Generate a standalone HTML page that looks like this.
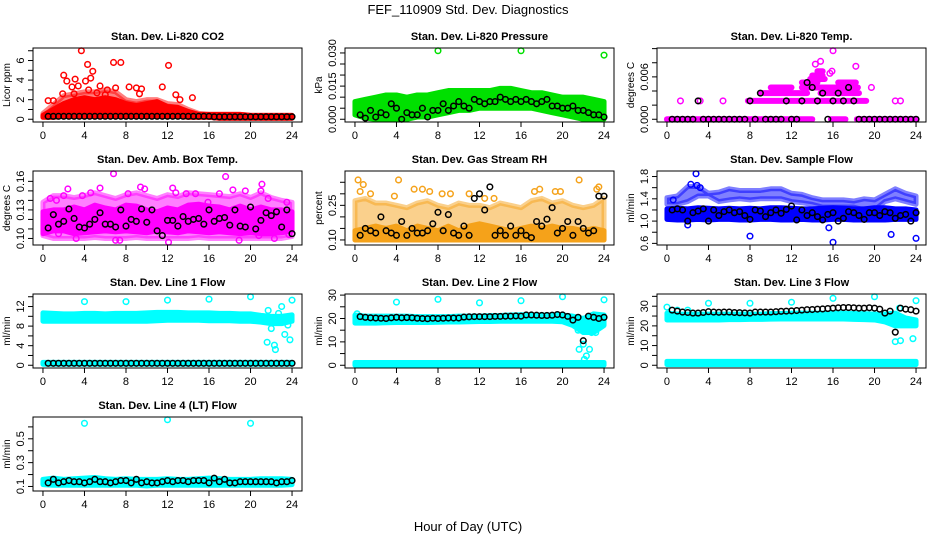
<!DOCTYPE html>
<html><head><meta charset="utf-8"><style>
html,body{margin:0;padding:0;background:#fff;}
svg{display:block;font-family:"Liberation Sans",sans-serif;}
</style></head><body>
<svg id="c" width="936" height="540" viewBox="0 0 936 540">
<text x="468" y="14" font-size="13" text-anchor="middle">FEF_110909  Std. Dev. Diagnostics</text>
<text x="468" y="531" font-size="13" text-anchor="middle">Hour of Day (UTC)</text>
</svg>
<script>
// ---- shared categories ----
const hours = [0,1,2,3,4,5,6,7,8,9,10,11,12,13,14,15,16,17,18,19,20,21,22,23,24];
const blackTimes = [0.5,1,1.5,2,2.5,3,3.5,4,4.5,5,5.5,6,6.5,7,7.5,8,8.5,9,9.5,10,10.5,11,11.5,12,12.5,13,13.5,14,14.5,15,15.5,16,16.5,17,17.5,18,18.5,19,19.5,20,20.5,21,21.5,22,22.5,23,23.5,24];
const xTicks = [0,4,8,12,16,20,24];

// ---- CO2 ----
const co2Lo = [0.2,0.2,0.3,0.3,0.3,0.3,0.3,0.3,0.3,0.3,0.3,0.3,0.3,0.3,0.2,0.2,0.2,0.1,0.1,0.1,0.1,0.1,0.1,0.1,0.1];
const co2Hi = [0.4,1.0,1.6,2.0,2.2,2.0,2.2,2.0,1.6,1.4,1.6,1.8,1.3,1.2,0.8,0.5,0.5,0.5,0.5,0.5,0.4,0.4,0.4,0.4,0.4];
const co2Env = [0.6,1.5,2.4,2.6,2.8,2.8,3.0,2.8,2.0,1.8,2.0,2.0,1.6,1.5,1.0,0.6,0.5,0.5,0.5,0.5,0.4,0.4,0.4,0.4,0.4];
const co2OutT = [0.5,1,1.9,2,2.3,2.8,3.1,3.4,3.7,4.1,4.3,4.4,4.6,4.8,5.5,6.2,6.8,7,7.5,8.3,9,9.5,9.3,11.5,12.1,12.8,13.2,14.4,3,5.2,6,4.3];
const co2OutV = [1.9,1.9,2.6,4.5,3.9,3.3,4.1,3.4,7.0,3.9,5.6,3.0,4.2,4.9,3.4,3.0,5.8,3.2,5.8,3.3,3.2,3.1,2.6,3.3,5.5,2.5,2.0,2.2,2.6,2.7,2.5,2.0];
const co2Black = [0.3,0.3,0.3,0.3,0.3,0.3,0.3,0.3,0.3,0.3,0.3,0.3,0.3,0.3,0.3,0.3,0.3,0.3,0.3,0.3,0.3,0.3,0.3,0.3,0.3,0.3,0.3,0.3,0.3,0.3,0.3,0.3,0.25,0.25,0.25,0.25,0.25,0.25,0.25,0.25,0.25,0.25,0.25,0.25,0.25,0.25,0.25,0.25];

// ---- Pressure ----
const prLo = [0.002,0.0005,0,0,0,0,0.001,0.001,0.002,0.003,0.004,0.004,0.005,0.005,0.005,0.005,0.005,0.005,0.004,0.003,0.002,0.001,0,0,0];
const prHi = [0.008,0.009,0.010,0.011,0.011,0.010,0.011,0.011,0.012,0.013,0.013,0.013,0.013,0.013,0.014,0.014,0.013,0.012,0.012,0.011,0.010,0.010,0.010,0.009,0.008];
const prOutT = [8,16,24];
const prOutV = [0.031,0.031,0.029];
const prBlack = [0.002,0.0005,0.004,0.001,0.003,0.002,0.007,0.005,0,0.003,0.002,0.002,0.005,0.001,0.004,0.004,0.007,0.004,0.006,0.008,0.006,0.005,0.009,0.008,0.007,0.008,0.008,0.010,0.009,0.008,0.009,0.008,0.009,0.008,0.007,0.008,0.009,0.006,0.006,0.005,0.005,0.006,0.004,0.004,0.003,0.002,0.002,0.001];

// ---- Li-820 Temp (quantized runs: level, start hour, end hour) ----
const tmpRunLevel = [0,0,0,0.0026,0.0037,0.0037,0.0045,0.0045,0.0052,0.0052,0.0057,0.0062,0.0068];
const tmpRunStart = [0,15.8,18.3,7.8,9,14.8,10,13,13,16.5,13.8,14,14.5];
const tmpRunEnd = [14,17.2,24,19.2,13.5,18.5,12,18.4,14.5,18.2,15.2,15,15];
const tmpOutT = [1.3,3.2,5.4,22,22.5,19.7,16,15.9,15.7,18.2,14.8,14.3];
const tmpOutV = [0.0026,0.0026,0.0026,0.0026,0.0026,0.0045,0.0097,0.0068,0.0065,0.0075,0.0082,0.0078];
const tmpBlack = [0,0,0,0,0,0.0026,0,0,0,0,0,0,0,0,0,0.0026,0,0.0037,0,0,0,0,0.0026,0,0,0.0026,0.0052,0.0045,0.0026,0.0037,0,0.0026,0.0037,0.0026,0.0045,0.0026,0,0,0,0,0,0,0,0,0,0,0,0];

// ---- Amb Box Temp ----
const ambLo = [0.105,0.108,0.108,0.105,0.106,0.107,0.108,0.107,0.108,0.107,0.106,0.108,0.107,0.106,0.108,0.107,0.106,0.107,0.106,0.105,0.106,0.105,0.105,0.106,0.108];
const ambHi = [0.128,0.13,0.13,0.133,0.13,0.135,0.132,0.13,0.135,0.134,0.13,0.128,0.132,0.13,0.135,0.136,0.134,0.133,0.13,0.134,0.13,0.133,0.13,0.13,0.128];
const ambEnvLo = [0.103,0.1,0.1,0.1,0.1,0.101,0.1,0.1,0.1,0.101,0.1,0.1,0.1,0.1,0.1,0.101,0.1,0.1,0.1,0.1,0.1,0.1,0.1,0.1,0.102];
const ambEnvHi = [0.138,0.145,0.145,0.143,0.145,0.148,0.145,0.142,0.146,0.148,0.145,0.142,0.146,0.144,0.148,0.147,0.146,0.145,0.144,0.147,0.143,0.148,0.143,0.14,0.138];
const ambOutT = [0.7,1.3,1.5,2,2.4,3.2,3.8,4.6,5.5,6.8,7,7.4,8.2,9.4,9.8,12.1,12.5,12.8,13.8,14.7,15.9,17,17.6,18.3,18.9,19.5,20.8,21.1,21,21.7,22.3,23.5,23.7];
const ambOutV = [0.142,0.14,0.105,0.145,0.152,0.10,0.145,0.148,0.153,0.168,0.098,0.098,0.147,0.154,0.152,0.096,0.153,0.148,0.147,0.147,0.138,0.147,0.165,0.151,0.098,0.15,0.103,0.157,0.15,0.142,0.1,0.138,0.104];
const ambBlack = [0.111,0.125,0.115,0.118,0.131,0.121,0.112,0.111,0.115,0.12,0.127,0.115,0.115,0.112,0.13,0.113,0.12,0.118,0.131,0.117,0.13,0.108,0.103,0.119,0.119,0.113,0.123,0.118,0.12,0.121,0.115,0.13,0.118,0.121,0.122,0.114,0.13,0.113,0.112,0.133,0.11,0.119,0.127,0.124,0.128,0.112,0.13,0.105];

// ---- Gas Stream RH ----
const rhLo = [0.1,0.1,0.1,0.1,0.1,0.1,0.1,0.1,0.1,0.1,0.1,0.1,0.1,0.1,0.1,0.1,0.1,0.1,0.1,0.1,0.1,0.1,0.1,0.1,0.1];
const rhHi = [0.14,0.15,0.16,0.15,0.16,0.14,0.16,0.15,0.14,0.16,0.14,0.16,0.17,0.16,0.15,0.14,0.15,0.16,0.15,0.16,0.15,0.15,0.14,0.15,0.14];
const rhEnvHi = [0.27,0.28,0.26,0.26,0.25,0.24,0.26,0.27,0.25,0.24,0.26,0.25,0.25,0.24,0.26,0.25,0.24,0.27,0.28,0.26,0.27,0.25,0.24,0.25,0.28];
const rhOutT = [0.3,0.8,0.5,1.5,4.2,3.8,5.7,6.5,7.2,8.4,9.2,11,12.5,13.4,17.3,17.8,19.3,19.8,21.6,23.3,23.5];
const rhOutV = [0.36,0.34,0.31,0.3,0.36,0.29,0.32,0.32,0.31,0.3,0.3,0.3,0.28,0.28,0.31,0.32,0.31,0.31,0.36,0.32,0.33];
const rhBlack = [0.12,0.15,0.14,0.13,0.20,0.14,0.13,0.12,0.18,0.12,0.15,0.13,0.13,0.14,0.17,0.22,0.14,0.21,0.13,0.12,0.16,0.12,0.28,0.30,0.23,0.33,0.12,0.14,0.12,0.16,0.12,0.14,0.12,0.11,0.18,0.16,0.19,0.24,0.13,0.15,0.18,0.12,0.18,0.15,0.13,0.14,0.29,0.29];

// ---- Sample Flow ----
const sfLo = [1.03,1.02,1.02,1.03,1.02,1.03,1.03,1.02,1.02,1.03,1.03,1.02,1.02,1.03,1.02,1.02,1.03,1.03,1.02,1.02,1.02,1.02,1.03,1.03,1.03];
const sfHi = [1.22,1.23,1.22,1.24,1.23,1.22,1.23,1.22,1.23,1.22,1.24,1.24,1.23,1.22,1.22,1.23,1.24,1.23,1.22,1.22,1.24,1.24,1.22,1.22,1.2];
const sfUpLo = [1.3,1.3,1.35,1.45,1.45,1.35,1.38,1.4,1.38,1.4,1.4,1.4,1.35,1.33,1.3,1.25,1.25,1.25,1.25,1.2,1.2,1.35,1.4,1.35,1.3];
const sfUpHi = [1.42,1.45,1.62,1.62,1.5,1.52,1.58,1.55,1.55,1.55,1.58,1.58,1.5,1.48,1.42,1.38,1.38,1.38,1.36,1.4,1.38,1.48,1.58,1.5,1.45];
const sfOutT = [2.8,8,16,24,2,21.6,15.6,2.3,2.9,3.2,0.6];
const sfOutV = [1.85,0.73,0.62,0.69,0.93,0.76,0.88,1.66,1.64,1.6,1.38];
const sfBlack = [1.2,1.22,1.2,1.0,1.15,1.18,1.22,1.0,1.2,1.1,1.17,1.2,1.15,1.17,1.1,1.03,1.2,1.18,1.08,1.15,1.2,1.14,1.21,1.27,1.02,1.2,1.1,1.15,1.08,1.02,1.12,1.15,1.0,1.05,1.17,1.15,1.1,1.03,1.15,1.15,1.1,1.17,1.15,1.05,1.1,1.12,1.0,1.15];

// ---- Line 1 Flow ----
const l1Lo = [9,9,9,9,9,9,9,9,9,9,9,9.1,9.2,9.2,9.2,9.2,9.1,9.1,9.1,9,9,8.8,8.5,8.5,9];
const l1Hi = [10.7,10.6,10.5,10.5,10.6,10.6,10.5,10.6,10.6,10.6,10.7,10.8,10.8,10.8,10.7,10.7,10.7,10.6,10.6,10.5,10.5,10.2,10,10,10.3];
const l1BaseLo = [0.2,0.2,0.2,0.2,0.2,0.2,0.2,0.2,0.2,0.2,0.2,0.2,0.2,0.2,0.2,0.2,0.2,0.2,0.2,0.2,0.2,0.2,0.2,0.2,0.2];
const l1BaseHi = [0.6,0.6,0.6,0.6,0.6,0.6,0.6,0.6,0.6,0.6,0.6,0.6,0.6,0.6,0.6,0.6,0.6,0.6,0.6,0.6,0.6,0.6,0.6,0.6,0.6];
const l1OutT = [4,8,12,16,20,24,21.6,21.7,22,22.3,22.4,22.7,23,23.3,23.6,23.8];
const l1OutV = [13,13,13.3,13.5,14,13.3,4.7,11.2,7.5,4.1,3.2,10.6,12,6.3,8.2,5.2];
const l1Black = [0.4,0.4,0.4,0.4,0.4,0.4,0.4,0.4,0.4,0.4,0.4,0.4,0.4,0.4,0.4,0.4,0.4,0.4,0.4,0.4,0.4,0.4,0.4,0.4,0.4,0.4,0.4,0.4,0.4,0.4,0.4,0.4,0.4,0.4,0.4,0.4,0.4,0.4,0.4,0.4,0.4,0.4,0.4,0.4,0.4,0.4,0.4,0.4];

// ---- Line 2 Flow ----
const l2Lo = [18,18,18,18.2,18.3,18.3,18.3,18.3,18.4,18.5,18.5,18.6,18.7,18.7,18.8,18.8,18.8,18.8,18.8,18.8,18.6,17,14,14,17];
const l2Hi = [21.5,21,21,21,21,21,20.8,20.8,20.8,20.8,21,21,21,21.2,21.3,21.5,21.6,21.5,21.5,21.5,21.5,21,20,22,21.5];
const l2BaseLo = [0,0,0,0,0,0,0,0,0,0,0,0,0,0,0,0,0,0,0,0,0,0,0,0,0];
const l2BaseHi = [1.2,1.2,1.2,1.2,1.2,1.2,1.2,1.2,1.2,1.2,1.2,1.2,1.2,1.2,1.2,1.2,1.2,1.2,1.2,1.2,1.2,1.2,1.2,1.2,1.2];
const l2OutT = [4,8,12,16,20,24,21.5,21.6,22,22.1,22.3,22.6,22.8,23.2,22.4,21.8,0.2];
const l2OutV = [27,28.2,26.7,27.6,29.3,28,15,6.8,9,2.5,4,6.8,14,14,16,17,22];
const l2Black = [20.8,20.5,20.3,20.2,20.1,20.0,20.3,20.5,20.3,20.4,20.3,20.1,20.0,19.9,20.1,20.0,20.1,20.2,20.2,20.2,20.6,20.7,20.8,20.8,20.8,20.8,20.9,20.9,21.0,21.0,21.1,21.0,21.5,21.5,21.4,21.3,21.3,21.4,21.7,21.5,20.9,19.3,20.5,10.5,21.0,20.5,20.0,20.5];

// ---- Line 3 Flow ----
const l3Lo = [23,23,23,23,23,23,23.2,23.2,23.3,23.3,23.4,23.5,23.5,23.5,23.5,23.5,23.5,23.5,23.3,23.2,23,22,20,20,20];
const l3Hi = [26.5,26,26,26,26,26,26,26,26,26,26.2,26.3,26.5,26.5,26.5,26.5,26.5,26.5,26.3,26.2,26,26,26.5,24,23];
const l3BaseLo = [0.3,0.3,0.3,0.3,0.3,0.3,0.3,0.3,0.3,0.3,0.3,0.3,0.3,0.3,0.3,0.3,0.3,0.3,0.3,0.3,0.3,0.3,0.3,0.3,0.3];
const l3BaseHi = [2,2,2,2,2,2,2,2,2,2,2,2,2,2,2,2,2,2,2,2,2,2,2,2,2];
const l3OutT = [0,4,8,12,16,20,24,22,22.5,23.7,22.4,22.8,1,2];
const l3OutV = [29.5,31.5,31.5,32,34,34.8,32.8,12,12.5,13.5,29,22,28,28];
const l3Black = [28,27.5,27,26.8,26.5,26.5,26.8,27.2,27,26.9,27,27,26.8,26.7,26.6,26.5,27,27,27,27,27.2,27.4,27.5,27.6,27.8,28,28.2,28.3,28.5,28.6,28.8,29,29.2,29.3,29.3,29.2,29,29,29.2,29,28.5,26.5,27.5,16.8,29,28.5,28.2,27.5];

// ---- Line 4 (LT) Flow ----
const l4Lo = [0.115,0.11,0.11,0.11,0.11,0.11,0.11,0.11,0.11,0.11,0.105,0.11,0.11,0.11,0.11,0.11,0.11,0.11,0.11,0.11,0.11,0.11,0.11,0.11,0.115];
const l4Hi = [0.16,0.17,0.16,0.165,0.17,0.175,0.165,0.16,0.165,0.16,0.16,0.16,0.165,0.16,0.16,0.165,0.17,0.165,0.16,0.16,0.16,0.165,0.165,0.165,0.16];
const l4OutT = [4,12,20];
const l4OutV = [0.63,0.66,0.63];
const l4Black = [0.13,0.16,0.13,0.14,0.15,0.14,0.14,0.13,0.14,0.16,0.14,0.14,0.13,0.14,0.15,0.15,0.13,0.16,0.13,0.14,0.13,0.13,0.14,0.15,0.14,0.15,0.15,0.14,0.15,0.15,0.15,0.13,0.17,0.14,0.16,0.13,0.13,0.14,0.14,0.14,0.14,0.14,0.14,0.14,0.13,0.14,0.14,0.15];

// ---- y-axis tick values / labels per panel ----
const co2Ticks=[0,1,2,3,4,5,6,7], co2Labels=["0","","2","","4","","6",""];
const prTicks=[0,0.005,0.01,0.015,0.02,0.025,0.03], prLabels=["0.000","","","0.015","","","0.030"];
const tmpTicks=[0,0.002,0.004,0.006,0.008,0.01], tmpLabels=["0.000","","","0.006","",""];
const ambTicks=[0.10,0.11,0.12,0.13,0.14,0.15,0.16], ambLabels=["0.10","","","0.13","","","0.16"];
const rhTicks=[0.10,0.15,0.20,0.25,0.30,0.35], rhLabels=["0.10","","","0.25","",""];
const sfTicks=[0.6,0.8,1.0,1.2,1.4,1.6,1.8], sfLabels=["0.6","","1.0","","1.4","","1.8"];
const l1Ticks=[0,2,4,6,8,10,12,14], l1Labels=["0","","4","","8","","12",""];
const l2Ticks=[0,5,10,15,20,25,30], l2Labels=["0","","10","","20","","30"];
const l3Ticks=[0,5,10,15,20,25,30,35], l3Labels=["0","","10","","20","","30",""];
const l4Ticks=[0.1,0.2,0.3,0.4,0.5,0.6], l4Labels=["0.1","","0.3","","0.5",""];

const NS="http://www.w3.org/2000/svg";
const svg=document.getElementById('c');
function mk(tag,attrs,parent){const e=document.createElementNS(NS,tag);for(const k in attrs)e.setAttribute(k,attrs[k]);(parent||svg).appendChild(e);return e;}
const colX=[33,345,657], rowY=[48,171,294,417], W=269, H=74;

function panel(col,row,name,title,ytitle,ymin,ymax,yt,yl,draw){
  const x0=colX[col], y0=rowY[row];
  const g=mk('g',{});
  
  
  const xr=[-0.96,24.96];
  const ext=(ymax-ymin)*0.04, yr=[ymin-ext,ymax+ext];
  const X=v=>x0+(v-xr[0])/(xr[1]-xr[0])*W;
  const Y=v=>y0+H-(v-yr[0])/(yr[1]-yr[0])*H;
  const plot=mk('g',{},g);
  
  
  draw(plot,X,Y);
  const box=mk('rect',{x:x0,y:y0,width:W,height:H,fill:'none',stroke:'#000','stroke-width':1},g);
  
  
  const t=mk('text',{x:x0+W/2,y:y0-8,'font-size':11,'font-weight':'bold','text-anchor':'middle'},g);
  
  
  t.textContent=title;
  const xa=mk('g',{},g);
  
  
  mk('line',{x1:X(0),x2:X(24),y1:y0+H,y2:y0+H,stroke:'#000'},xa);
  xTicks.forEach(v=>{
    mk('line',{x1:X(v),x2:X(v),y1:y0+H,y2:y0+H+5,stroke:'#000'},xa);
    const l=mk('text',{x:X(v),y:y0+H+17,'font-size':11,'text-anchor':'middle'},xa);
    
    
    l.textContent=v;
  });
  const ya=mk('g',{},g);
  
  
  mk('line',{x1:x0,x2:x0,y1:Y(yt[0]),y2:Y(yt[yt.length-1]),stroke:'#000'},ya);
  yt.forEach((v,i)=>{
    mk('line',{x1:x0,x2:x0-5,y1:Y(v),y2:Y(v),stroke:'#000'},ya);
    if(yl[i]){
      const l=mk('text',{x:x0-9,y:Y(v),'font-size':11,'text-anchor':'middle',transform:`rotate(-90 ${x0-9} ${Y(v)})`},ya);
      
      
      l.textContent=yl[i];
    }
  });
  const yt2=mk('text',{x:x0-23,y:y0+H/2,'font-size':10,'text-anchor':'middle',transform:`rotate(-90 ${x0-23} ${y0+H/2})`},g);
  
  
  yt2.textContent=ytitle;
}
function band(p,X,Y,lo,hi,color,op,nm){
  let pts=[];
  hours.forEach((h,i)=>pts.push(X(h)+','+Y(hi[i])));
  for(let i=hours.length-1;i>=0;i--)pts.push(X(hours[i])+','+Y(lo[i]));
  const e=mk('polygon',{points:pts.join(' '),fill:color,'fill-opacity':op,stroke:color,'stroke-opacity':op,'stroke-width':5,'stroke-linejoin':'round'},p);
  
  
}
function pts(p,X,Y,ts,vs,color,nm){
  ts.forEach((t,i)=>{
    const c=mk('circle',{cx:X(t),cy:Y(vs[i]),r:2.8,fill:'none',stroke:color,'stroke-width':1.5},p);
    
    
  });
}
function runs(p,X,Y,color){
  tmpRunLevel.forEach((lv,i)=>{
    const r=mk('line',{x1:X(tmpRunStart[i]),x2:X(tmpRunEnd[i]),y1:Y(lv),y2:Y(lv),stroke:color,'stroke-width':6,'stroke-linecap':'round'},p);
    
    
  });
}
const RED='#ff0000',GRN='#00e000',MAG='#ff00ff',ORA='#f5a21a',BLU='#0000ff',CY='#00ffff',BK='#000';

panel(0,0,'co2','Stan. Dev. Li-820 CO2','Licor ppm',0,7,co2Ticks,co2Labels,(p,X,Y)=>{
  band(p,X,Y,co2Lo,co2Env,RED,0.5,'co2-envelope');band(p,X,Y,co2Lo,co2Hi,RED,1,'co2-band');
  pts(p,X,Y,co2OutT,co2OutV,RED,'co2-point');pts(p,X,Y,blackTimes,co2Black,BK,'co2-hourly-point');});
panel(1,0,'pressure','Stan. Dev. Li-820 Pressure','kPa',0,0.031,prTicks,prLabels,(p,X,Y)=>{
  band(p,X,Y,prLo,prHi,GRN,1,'pressure-band');pts(p,X,Y,prOutT,prOutV,GRN,'pressure-point');
  pts(p,X,Y,blackTimes,prBlack,BK,'pressure-hourly-point');});
panel(2,0,'li820-temp','Stan. Dev. Li-820 Temp.','degrees C',0,0.0097,tmpTicks,tmpLabels,(p,X,Y)=>{
  runs(p,X,Y,MAG);pts(p,X,Y,tmpOutT,tmpOutV,MAG,'temp-point');pts(p,X,Y,blackTimes,tmpBlack,BK,'temp-hourly-point');});
panel(0,1,'amb-box-temp','Stan. Dev. Amb. Box Temp.','degrees C',0.096,0.168,ambTicks,ambLabels,(p,X,Y)=>{
  band(p,X,Y,ambEnvLo,ambEnvHi,MAG,0.5,'amb-envelope');band(p,X,Y,ambLo,ambHi,MAG,1,'amb-band');
  pts(p,X,Y,ambOutT,ambOutV,MAG,'amb-point');pts(p,X,Y,blackTimes,ambBlack,BK,'amb-hourly-point');});
panel(1,1,'gas-rh','Stan. Dev. Gas Stream RH','percent',0.09,0.387,rhTicks,rhLabels,(p,X,Y)=>{
  band(p,X,Y,rhLo,rhEnvHi,ORA,0.5,'rh-envelope');band(p,X,Y,rhLo,rhHi,ORA,1,'rh-band');
  pts(p,X,Y,rhOutT,rhOutV,ORA,'rh-point');pts(p,X,Y,blackTimes,rhBlack,BK,'rh-hourly-point');});
panel(2,1,'sample-flow','Stan. Dev. Sample Flow','ml/min',0.62,1.85,sfTicks,sfLabels,(p,X,Y)=>{
  band(p,X,Y,sfUpLo,sfUpHi,BLU,0.5,'sample-upper-cloud');band(p,X,Y,sfLo,sfHi,BLU,1,'sample-band');
  pts(p,X,Y,sfOutT,sfOutV,BLU,'sample-point');pts(p,X,Y,blackTimes,sfBlack,BK,'sample-hourly-point');});
panel(0,2,'line1-flow','Stan. Dev. Line 1 Flow','ml/min',0,14,l1Ticks,l1Labels,(p,X,Y)=>{
  band(p,X,Y,l1Lo,l1Hi,CY,1,'line1-band');band(p,X,Y,l1BaseLo,l1BaseHi,CY,1,'line1-base-band');
  pts(p,X,Y,l1OutT,l1OutV,CY,'line1-point');pts(p,X,Y,blackTimes,l1Black,BK,'line1-hourly-point');});
panel(1,2,'line2-flow','Stan. Dev. Line 2 Flow','ml/min',0,29.3,l2Ticks,l2Labels,(p,X,Y)=>{
  band(p,X,Y,l2Lo,l2Hi,CY,1,'line2-band');band(p,X,Y,l2BaseLo,l2BaseHi,CY,1,'line2-base-band');
  pts(p,X,Y,l2OutT,l2OutV,CY,'line2-point');pts(p,X,Y,blackTimes,l2Black,BK,'line2-hourly-point');});
panel(2,2,'line3-flow','Stan. Dev. Line 3 Flow','ml/min',0,34.8,l3Ticks,l3Labels,(p,X,Y)=>{
  band(p,X,Y,l3Lo,l3Hi,CY,1,'line3-band');band(p,X,Y,l3BaseLo,l3BaseHi,CY,1,'line3-base-band');
  pts(p,X,Y,l3OutT,l3OutV,CY,'line3-point');pts(p,X,Y,blackTimes,l3Black,BK,'line3-hourly-point');});
panel(0,3,'line4-flow','Stan. Dev. Line 4 (LT) Flow','ml/min',0.085,0.66,l4Ticks,l4Labels,(p,X,Y)=>{
  band(p,X,Y,l4Lo,l4Hi,CY,1,'line4-band');pts(p,X,Y,l4OutT,l4OutV,CY,'line4-point');
  pts(p,X,Y,blackTimes,l4Black,BK,'line4-hourly-point');});
</script>
</body></html>
